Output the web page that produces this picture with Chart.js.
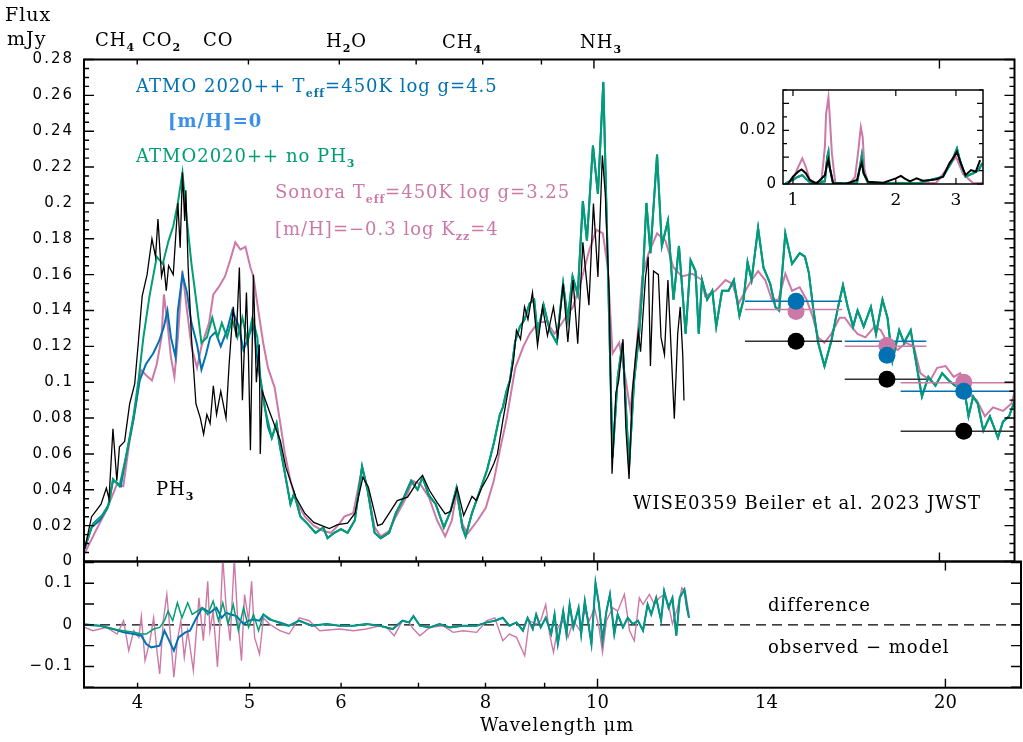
<!DOCTYPE html>
<html>
<head>
<title>WISE0359 spectrum vs models</title>
<script src="https://cdn.jsdelivr.net/npm/chart.js"></script>
<style>
  body { margin: 0; background: #fff; }
  #wrap { position: relative; width: 1023px; height: 742px; background: #fff; }
  #wrap canvas { position: absolute; left: 0; top: 0; }
</style>
</head>
<body>
<div id="wrap">
  <canvas id="mainChart" width="1023" height="742"></canvas>
  <canvas id="diffChart" width="1023" height="742"></canvas>
  <canvas id="insetChart" width="1023" height="742"></canvas>
</div>
<script>
// ---- observed JWST spectrum (mJy) ----
const wlObs = [3.60,3.65,3.68,3.72,3.76,3.78,3.81,3.84,3.86,3.90,3.94,3.98,4.01,4.04,4.08,4.12,4.15,4.17,4.20,4.22,4.24,4.26,4.30,4.34,4.36,4.38,4.40,4.41,4.43,4.46,4.50,4.54,4.57,4.60,4.63,4.66,4.69,4.73,4.78,4.81,4.85,4.88,4.91,4.94,4.98,5.00,5.02,5.05,5.08,5.11,5.12,5.14,5.22,5.33,5.39,5.50,5.60,5.70,5.88,5.98,6.10,6.19,6.29,6.36,6.48,6.54,6.74,6.88,6.97,7.00,7.09,7.19,7.30,7.42,7.50,7.60,7.70,7.83,7.90,7.99,8.08,8.18,8.24,8.33,8.45,8.51,8.56,8.63,8.70,8.76,8.84,8.93,9.02,9.11,9.22,9.30,9.40,9.49,9.59,9.68,9.78,9.90,9.99,10.08,10.17,10.23,10.31,10.37,10.45,10.51,10.60,10.66,10.73,10.80,10.87,10.93,10.98,11.09,11.15,11.20,11.27,11.38,11.44,11.52,11.60,11.65,11.75,11.83,11.89,11.95,11.98];
const fluxObs = [.007,.025,.028,.032,.041,.035,.074,.045,.064,.067,.088,.099,.123,.148,.160,.180,.170,.191,.159,.165,.151,.165,.160,.200,.175,.217,.190,.207,.165,.125,.088,.080,.071,.082,.077,.098,.082,.095,.080,.110,.142,.125,.164,.090,.150,.115,.062,.160,.100,.121,.060,.095,.083,.0675,.0525,.0357,.0268,.0218,.0184,.0206,.0214,.0268,.047,.0415,.020,.021,.034,.0359,.0415,.044,.048,.0396,.033,.0266,.028,.041,.0257,.0363,.034,.0415,.047,.0545,.060,.0787,.101,.112,.129,.124,.142,.135,.150,.1205,.142,.126,.142,.125,.155,.1224,.157,.1215,.178,.143,.1996,.1587,.2265,.205,.149,.049,.094,.101,.124,.075,.046,.094,.114,.128,.117,.1587,.170,.109,.162,.160,.125,.1154,.157,.131,.0796,.127,.142,.1154,.0898];

// ---- ATMO 2020++ Teff=450K log g=4.5 [m/H]=0 ----
const wlAtmo = [3.60,3.65,3.71,3.77,3.81,3.84,3.87,3.91,3.97,4.02,4.07,4.13,4.18,4.22,4.25,4.28,4.32,4.34,4.38,4.42,4.46,4.51,4.55,4.59,4.63,4.68,4.73,4.79,4.84,4.90,4.95,5.00,5.05,5.10,5.15,5.20,5.24,5.29,5.32,5.38,5.44,5.48,5.55,5.63,5.72,5.81,5.86,5.94,6.02,6.10,6.19,6.28,6.35,6.44,6.52,6.63,6.72,6.81,6.93,7.02,7.09,7.18,7.28,7.40,7.50,7.59,7.68,7.73,7.83,7.96,8.07,8.18,8.28,8.33,8.39,8.45,8.54,8.62,8.70,8.79,8.87,8.93,9.04,9.15,9.28,9.40,9.49,9.58,9.68,9.78,9.86,9.98,10.08,10.19,10.28,10.38,10.49,10.59,10.73,10.84,10.95,11.02,11.11,11.20,11.35,11.46,11.60,11.73,11.86,12.02,12.14,12.26,12.34,12.42,12.55,12.68,12.78,12.93,13.10,13.24,13.39,13.50,13.61,13.72,13.90,14.05,14.24,14.39,14.50,14.68,14.88,15.11,15.27,15.39,15.52,15.68,15.88,16.10,16.32,16.48,16.64,16.82,16.97,17.18,17.43,17.61,17.84,18.02,18.20,18.45,18.63,18.88,19.12,19.31,19.56,19.84,20.11,20.38,20.65,21.00,21.20,21.40,21.60,21.84,22.13,22.49,22.72,23.00,23.27];
const fluxAtmo = [.007,.019,.023,.030,.045,.044,.042,.058,.079,.101,.110,.116,.123,.131,.140,.125,.114,.140,.160,.150,.133,.121,.107,.115,.125,.128,.120,.129,.140,.132,.118,.125,.133,.108,.092,.075,.069,.077,.066,.049,.032,.038,.025,.021,.016,.019,.013,.016,.018,.016,.023,.053,.040,.016,.013,.016,.027,.034,.045,.040,.047,.037,.032,.019,.028,.041,.019,.014,.027,.040,.051,.066,.082,.086,.095,.101,.123,.131,.135,.144,.146,.127,.143,.129,.122,.155,.135,.159,.149,.201,.179,.232,.205,.2675,.168,.058,.103,.122,.053,.101,.127,.153,.200,.172,.227,.176,.190,.146,.176,.127,.168,.162,.127,.157,.146,.151,.131,.151,.151,.157,.137,.146,.167,.157,.186,.164,.155,.142,.140,.183,.166,.172,.170,.161,.142,.122,.109,.123,.142,.154,.142,.131,.140,.131,.142,.127,.146,.136,.112,.129,.122,.129,.108,.092,.103,.098,.105,.101,.098,.098,.081,.092,.088,.073,.081,.069,.078,.081,.090];

// ---- ATMO 2020++ without PH3 (differs from ATMO below 5.2 um) ----
const wlNoPH3Short = [3.60,3.66,3.73,3.78,3.81,3.86,3.91,3.97,4.01,4.05,4.10,4.16,4.21,4.26,4.30,4.34,4.38,4.42,4.46,4.51,4.55,4.60,4.65,4.70,4.74,4.79,4.84,4.89,4.94,4.99,5.04,5.09,5.12,5.17];
const fluxNoPH3Short = [.008,.021,.026,.032,.046,.042,.058,.081,.101,.125,.148,.170,.166,.179,.187,.200,.217,.190,.166,.142,.122,.125,.136,.125,.133,.125,.135,.125,.136,.122,.136,.125,.103,.085];

// ---- Sonora Teff=450K log g=3.25 [m/H]=-0.3 log Kzz=4 ----
const wlSonora = [3.60,3.68,3.76,3.84,3.89,3.94,3.99,4.03,4.07,4.12,4.16,4.20,4.22,4.25,4.28,4.31,4.34,4.38,4.42,4.46,4.51,4.55,4.62,4.66,4.71,4.77,4.82,4.87,4.92,4.97,5.02,5.05,5.10,5.15,5.20,5.27,5.33,5.38,5.44,5.50,5.60,5.70,5.81,5.90,6.00,6.06,6.17,6.28,6.35,6.44,6.52,6.63,6.72,6.84,6.95,7.06,7.18,7.30,7.42,7.52,7.59,7.68,7.76,7.92,8.05,8.18,8.28,8.39,8.54,8.68,8.79,8.93,9.09,9.24,9.40,9.59,9.75,9.91,10.05,10.18,10.28,10.38,10.52,10.66,10.76,10.87,11.02,11.16,11.35,11.54,11.73,11.93,12.18,12.42,12.50,12.76,13.02,13.20,13.37,13.55,13.72,13.90,14.10,14.29,14.48,14.68,14.88,15.11,15.32,15.52,15.68,15.88,16.10,16.37,16.54,16.76,16.97,17.24,17.56,17.78,18.02,18.39,18.70,19.00,19.25,19.63,19.91,20.25,20.58,20.85,21.13,21.55,21.91,22.27,22.72,23.10,23.27];
const fluxSonora = [.0045,.017,.0285,.043,.042,.0675,.088,.107,.104,.101,.110,.125,.149,.133,.114,.103,.125,.162,.140,.120,.108,.120,.133,.149,.153,.159,.168,.178,.174,.1755,.164,.159,.140,.122,.108,.097,.077,.060,.045,.034,.025,.020,.017,.016,.021,.025,.027,.052,.040,.019,.014,.017,.025,.034,.045,.043,.036,.023,.014,.023,.038,.021,.0155,.023,.030,.045,.062,.079,.108,.120,.127,.133,.134,.127,.134,.142,.157,.174,.185,.183,.164,.116,.122,.101,.084,.112,.159,.172,.183,.179,.164,.159,.1605,.157,.148,.151,.157,.155,.144,.151,.157,.162,.157,.146,.146,.1605,.151,.153,.146,.136,.125,.122,.127,.136,.136,.131,.127,.125,.131,.129,.122,.118,.122,.120,.105,.101,.108,.109,.103,.105,.094,.090,.081,.086,.084,.088,.095];

// ---- MIRI photometry: observed and synthetic, with filter widths ----
const wlPhot = [15, 18, 21];
const fluxPhotObs = [0.1229, 0.1016, 0.0727];
const fluxPhotAtmo = [0.1451, 0.1150, 0.0949];
const fluxPhotSonora = [0.1395, 0.1205, 0.1000];
const bandLo = [13.54, 16.54, 18.50];
const bandHi = [16.45, 19.48, 24.0];
const barAtmo = [0.1451, 0.1228, 0.0949];
const barSonora = [0.1405, 0.1200, 0.0997];

// ---- difference panel: observed - model ----
const wlDiffAtmo = [3.60,3.71,3.81,3.89,3.97,4.03,4.07,4.11,4.18,4.22,4.26,4.30,4.34,4.40,4.44,4.49,4.55,4.62,4.68,4.73,4.77,4.82,4.87,4.94,4.99,5.04,5.10,5.14,5.20,5.31,5.41,5.52,5.66,5.83,5.98,6.15,6.31,6.48,6.65,6.78,6.87,6.93,7.02,7.16,7.30,7.45,7.65,7.86,8.02,8.15,8.28,8.39,8.51,8.62,8.70,8.79,8.85,8.93,9.02,9.12,9.18,9.24,9.34,9.40,9.46,9.53,9.63,9.68,9.75,9.81,9.88,9.96,10.03,10.10,10.18,10.25,10.34,10.41,10.52,10.62,10.73,10.84,10.95,11.05,11.13,11.24,11.35,11.42,11.52,11.61,11.70,11.78,11.89,11.95,12.00];
const diffAtmo = [0,-.002,-.010,-.018,-.022,-.026,-.046,-.054,-.050,-.014,-.038,-.062,-.030,-.018,-.014,.013,.041,.029,.041,.017,.029,.025,.021,.002,.010,.013,.010,.025,.013,.006,-.002,.010,-.002,.002,-.002,-.002,.002,-.002,-.010,.010,.006,.021,-.002,-.006,.002,-.006,-.002,-.002,.006,.010,.017,-.002,.006,-.014,.017,-.010,.025,-.006,.017,-.022,.025,-.046,.033,-.022,.049,-.006,.041,-.022,.057,.010,-.046,.101,.049,-.038,.033,.073,-.022,.025,-.006,.017,.002,.010,-.014,.049,.025,.065,.010,.081,.041,.065,-.026,.065,.085,.041,.017];
const wlDiffNoPH3Short = [3.60,3.71,3.81,3.89,3.97,4.03,4.07,4.13,4.18,4.22,4.25,4.29,4.33,4.37,4.42,4.46,4.55,4.60,4.65,4.70,4.74,4.79,4.84,4.89,4.94,4.99,5.04,5.09,5.14,5.24,5.38];
const diffNoPH3Short = [.002,-.002,-.010,-.014,-.018,-.022,-.022,-.010,-.006,.010,.033,.010,.053,.017,.053,.025,.041,.025,.057,.010,.053,.002,.049,-.014,.041,-.006,.025,-.014,.025,.010,-.002];
const wlDiffSonora = [3.60,3.66,3.76,3.84,3.89,3.93,3.97,4.01,4.03,4.06,4.10,4.13,4.16,4.18,4.21,4.24,4.26,4.30,4.33,4.36,4.39,4.42,4.47,4.52,4.56,4.60,4.62,4.65,4.69,4.71,4.74,4.77,4.81,4.85,4.88,4.92,4.95,4.99,5.02,5.05,5.10,5.14,5.20,5.31,5.41,5.52,5.63,5.75,5.98,6.15,6.31,6.48,6.57,6.67,6.78,6.87,6.93,7.02,7.16,7.35,7.50,7.65,7.86,8.02,8.15,8.28,8.39,8.51,8.65,8.73,8.85,8.93,9.02,9.09,9.16,9.24,9.34,9.43,9.53,9.66,9.75,9.84,9.94,10.03,10.10,10.18,10.31,10.41,10.55,10.66,10.76,10.87,10.95,11.09,11.20,11.31,11.42,11.52,11.61,11.73,11.83,11.91,12.00];
const diffSonora = [-.006,-.014,-.006,-.022,.010,-.062,-.014,-.030,.021,-.086,-.038,.017,-.070,-.118,.010,.073,.010,-.126,-.038,.010,-.078,-.014,-.110,.065,-.038,.105,-.014,.033,-.101,-.014,.160,.049,-.038,.160,.025,-.086,.073,.010,.105,-.030,-.070,.017,.002,-.014,-.022,.017,.010,-.014,-.010,-.014,-.010,-.002,-.006,-.026,.010,.006,-.010,-.026,-.006,-.002,-.018,-.014,-.018,.010,.017,-.038,-.022,-.030,-.074,.010,.002,.010,.049,-.022,-.066,-.006,.010,-.030,.010,-.014,.033,.010,.041,-.006,-.066,.010,.041,.033,.073,-.014,-.038,.065,.049,.073,.049,.065,.073,.049,.002,.041,.089,.081,.025];

// ---- inset: near-infrared part of the spectrum ----
const wlInsetObs = [0.97,1.00,1.036,1.06,1.09,1.12,1.17,1.24,1.26,1.27,1.28,1.31,1.43,1.54,1.57,1.59,1.61,1.66,1.84,2.00,2.07,2.12,2.20,2.30,2.40,2.53,2.63,2.75,2.87,2.96,3.02,3.10,3.20,3.32,3.43,3.53];
const fluxInsetObs = [.0003,.0027,.0046,.0054,.0040,.0015,.0001,.0033,.0077,.0091,.0064,.0003,.0001,.0015,.0058,.0079,.0040,.0008,.0005,.0021,.0030,.0021,.0010,.0021,.0012,.0015,.0018,.0027,.0077,.0101,.0120,.0077,.0033,.0052,.0046,.0089];
const wlInsetAtmo = [0.95,1.00,1.036,1.065,1.09,1.13,1.24,1.26,1.27,1.28,1.31,1.54,1.57,1.59,1.61,1.66,2.00,2.35,2.75,2.90,3.02,3.08,3.20,3.37,3.50,3.58];
const fluxInsetAtmo = [.0002,.0015,.0027,.0033,.0020,.0002,.0010,.0101,.0120,.0064,.0003,.0003,.0064,.0107,.0040,.0002,.0003,.0005,.0027,.0077,.0132,.0089,.0027,.0040,.0052,.0077];
const wlInsetSonora = [0.95,1.00,1.036,1.065,1.09,1.12,1.17,1.21,1.24,1.25,1.27,1.28,1.30,1.33,1.47,1.52,1.55,1.58,1.60,1.62,1.66,1.80,2.00,2.35,2.63,2.85,3.00,3.15,3.37,3.60];
const fluxInsetSonora = [0,.0015,.0064,.0095,.0064,.0015,.0003,.0005,.0138,.0260,.0323,.0260,.0114,.0005,.0003,.0027,.0114,.0212,.0175,.0052,.0003,.0002,.0005,.0003,.0005,.0064,.0101,.0037,.0003,.0005];

// ---- axis ticks ----
const wlTicks = [4, 5, 6, 7, 8, 9, 10, 20];
const wlTickLabels = [4, 5, 6, 8, 10, 14, 20];
const fluxTickLabels = [0, 0.02, 0.04, 0.06, 0.08, 0.1, 0.12, 0.14, 0.16, 0.18, 0.2, 0.22, 0.24, 0.26, 0.28];
const diffTickLabels = [-0.1, 0, 0.1];
const insetWlTicks = [1, 2, 3];
const insetFluxLabels = [0, 0.02];

const BLUE = '#0072B2', GREEN = '#009E73', PINK = '#CC79A7', LIGHTBLUE = '#3a8fe6';
const SERIF = '"DejaVu Serif", serif';
const SANS = '"DejaVu Sans", sans-serif';

const pts = (xs, ys) => xs.map((x, i) => ({ x, y: ys[i] }));
const bars = (lo, hi, ys) => {
  const out = [];
  ys.forEach((y, i) => { out.push({ x: lo[i], y }, { x: hi[i], y }, { x: hi[i], y: null }); });
  return out;
};

// green = no-PH3 short part, then same as ATMO
const cut = 5.2;
const wlNoPH3 = wlNoPH3Short.concat(wlAtmo.filter(w => w > cut));
const fluxNoPH3 = fluxNoPH3Short.concat(fluxAtmo.filter((f, i) => wlAtmo[i] > cut));
const wlDiffNoPH3 = wlDiffNoPH3Short.concat(wlDiffAtmo.filter(w => w > 5.4));
const diffNoPH3 = diffNoPH3Short.concat(diffAtmo.filter((d, i) => wlDiffAtmo[i] > 5.4));

function richText(ctx, str, x, y, size, color, bold) {
  const parts = str.split(/(_\{[^}]*\})/);
  ctx.fillStyle = color;
  ctx.textAlign = 'left';
  ctx.textBaseline = 'alphabetic';
  ctx.letterSpacing = '1px';
  let cx = x;
  parts.forEach(p => {
    if (!p) return;
    if (p.startsWith('_{')) {
      const t = p.slice(2, -1);
      ctx.font = 'bold ' + Math.round(size * 0.62) + 'px ' + SERIF;
      ctx.fillText(t, cx, y + size * 0.28);
      cx += ctx.measureText(t).width;
    } else {
      ctx.font = (bold ? 'bold ' : '') + size + 'px ' + SERIF;
      ctx.fillText(p, cx, y);
      cx += ctx.measureText(p).width;
    }
  });
}

// frame, inward ticks and tick labels for one panel
function frameAxes(cfg) {
  return {
    id: 'frameAxes',
    beforeDatasetsDraw(chart) {
      if (!cfg.fill) return;
      const a = chart.chartArea;
      chart.ctx.save();
      chart.ctx.fillStyle = '#fff';
      chart.ctx.fillRect(a.left, a.top, a.right - a.left, a.bottom - a.top);
      chart.ctx.restore();
    },
    afterDatasetsDraw(chart) {
      const { ctx, chartArea: a } = chart;
      const sx = chart.scales.x, sy = chart.scales.y;
      ctx.save();
      ctx.strokeStyle = '#000';
      ctx.lineWidth = cfg.tickWidth;
      ctx.beginPath();
      cfg.xTicks.forEach(t => {
        const px = sx.getPixelForValue(t.v);
        ctx.moveTo(px, a.bottom); ctx.lineTo(px, a.bottom - t.len);
        ctx.moveTo(px, a.top); ctx.lineTo(px, a.top + t.len);
      });
      cfg.yTicks.forEach(t => {
        const py = sy.getPixelForValue(t.v);
        ctx.moveTo(a.left, py); ctx.lineTo(a.left + t.len, py);
        ctx.moveTo(a.right, py); ctx.lineTo(a.right - t.len, py);
      });
      ctx.stroke();
      ctx.lineWidth = cfg.frameWidth;
      ctx.strokeRect(a.left, a.top, a.right - a.left, a.bottom - a.top);
      ctx.fillStyle = '#000';
      ctx.font = cfg.yFont;
      ctx.letterSpacing = cfg.yLetter;
      ctx.textAlign = 'right';
      ctx.textBaseline = 'middle';
      cfg.yLabels.forEach(v => ctx.fillText(cfg.yFmt(v), a.left - cfg.yGap, sy.getPixelForValue(v)));
      ctx.font = cfg.xFont;
      ctx.letterSpacing = '0px';
      ctx.textAlign = 'center';
      ctx.textBaseline = 'alphabetic';
      cfg.xLabels.forEach(v => ctx.fillText(String(v), sx.getPixelForValue(v), a.bottom + cfg.xGap));
      ctx.restore();
    }
  };
}

function yTickSet(min, max, step, majorEvery, majorLen, minorLen) {
  const out = [];
  const n = Math.round((max - min) / step);
  for (let i = 0; i <= n; i++) {
    const v = min + i * step;
    const major = Math.abs(v / majorEvery - Math.round(v / majorEvery)) < 1e-6;
    out.push({ v, len: major ? majorLen : minorLen });
  }
  return out;
}

const wlTickSet = wlTicks.map(v => ({ v, len: (v === 10 || v === 20) ? 9 : 5 }));

const notes = {
  id: 'notes',
  afterDraw(chart) {
    const ctx = chart.ctx;
    ctx.save();
    richText(ctx, 'Flux', 5, 21, 19, '#000');
    richText(ctx, 'mJy', 7, 45, 19, '#000');
    richText(ctx, 'CH_{4}', 95, 46, 18, '#000');
    richText(ctx, 'CO_{2}', 142, 46, 18, '#000');
    richText(ctx, 'CO', 203, 46, 18, '#000');
    richText(ctx, 'H_{2}O', 326, 47, 18, '#000');
    richText(ctx, 'CH_{4}', 442, 48, 18, '#000');
    richText(ctx, 'NH_{3}', 580, 48, 18, '#000');
    richText(ctx, 'ATMO 2020++ T_{eff}=450K log g=4.5', 136, 92, 18, BLUE);
    richText(ctx, '[m/H]=0', 168, 127, 18, LIGHTBLUE, true);
    richText(ctx, 'ATMO2020++ no PH_{3}', 136, 162, 18, GREEN);
    richText(ctx, 'Sonora T_{eff}=450K log g=3.25', 275, 198, 18, PINK);
    richText(ctx, '[m/H]=\u22120.3 log K_{zz}=4', 275, 235, 18, PINK);
    richText(ctx, 'PH_{3}', 156, 495, 18, '#000');
    richText(ctx, 'WISE0359 Beiler et al. 2023 JWST', 633, 509, 18, '#000');
    richText(ctx, 'difference', 768, 611, 18, '#000');
    richText(ctx, 'observed \u2212 model', 768, 653, 18, '#000');
    richText(ctx, 'Wavelength \u03bcm', 480, 731, 18, '#000');
    ctx.restore();
  }
};

const lineDs = (label, data, color, width, order) => ({
  label, data, borderColor: color, backgroundColor: color, borderWidth: width,
  pointRadius: 0, pointHoverRadius: 0, tension: 0, fill: false, order, spanGaps: false
});
const dotDs = (label, data, color, order) => ({
  label, data, showLine: false, pointRadius: 8.5, pointHoverRadius: 8.5,
  pointBackgroundColor: color, pointBorderColor: color, pointBorderWidth: 0, order
});

const baseOpts = (padding, xMin, xMax, yMin, yMax) => ({
  responsive: false,
  animation: false,
  devicePixelRatio: 1,
  events: [],
  layout: { padding },
  scales: {
    x: { type: 'logarithmic', min: xMin, max: xMax, display: false },
    y: { type: 'linear', min: yMin, max: yMax, display: false }
  },
  plugins: { legend: { display: false }, tooltip: { enabled: false } }
});

// main spectrum panel
new Chart(document.getElementById('mainChart'), {
  type: 'line',
  data: {
    datasets: [
      lineDs('Sonora', pts(wlSonora, fluxSonora), PINK, 2, 20),
      lineDs('ATMO 2020++', pts(wlAtmo, fluxAtmo), BLUE, 2, 19),
      lineDs('ATMO 2020++ no PH3', pts(wlNoPH3, fluxNoPH3), GREEN, 2, 18),
      lineDs('Observed', pts(wlObs, fluxObs), '#000', 1.3, 17),
      lineDs('Sonora band', bars(bandLo, bandHi, barSonora), PINK, 1.5, 16),
      lineDs('ATMO band', bars(bandLo, bandHi, barAtmo), BLUE, 1.5, 15),
      lineDs('Observed band', bars(bandLo, bandHi, fluxPhotObs), '#333', 1.5, 15),
      dotDs('Sonora phot', pts(wlPhot, fluxPhotSonora), PINK, 12),
      dotDs('ATMO phot', pts(wlPhot, fluxPhotAtmo), BLUE, 11),
      dotDs('Observed phot', pts(wlPhot, fluxPhotObs), '#000', 11)
    ]
  },
  options: baseOpts({ left: 84, top: 59.5, right: 2, bottom: 742 - 561.5 }, 3.595, 23.25, 0, 0.28),
  plugins: [frameAxes({
    xTicks: wlTickSet,
    yTicks: yTickSet(0, 0.28, 0.005, 0.02, 10, 5),
    yLabels: fluxTickLabels, yFmt: v => String(v), yFont: '15px ' + SANS, yLetter: '2px', yGap: 10,
    xLabels: [], xFont: '18px ' + SERIF, xGap: 0,
    tickWidth: 1.4, frameWidth: 2
  }), notes]
});

// difference panel
new Chart(document.getElementById('diffChart'), {
  type: 'line',
  data: {
    datasets: [
      lineDs('zero', [{ x: 3.595, y: 0 }, { x: 23.25, y: 0 }], '#000', 1.4, 20),
      lineDs('Sonora diff', pts(wlDiffSonora, diffSonora), PINK, 1.4, 19),
      lineDs('ATMO diff', pts(wlDiffAtmo, diffAtmo), BLUE, 2, 18),
      lineDs('no PH3 diff', pts(wlDiffNoPH3, diffNoPH3), GREEN, 1.5, 17)
    ]
  },
  options: baseOpts({ left: 84, top: 561.5, right: 2, bottom: 742 - 687.7 }, 3.595, 23.25, -0.151, 0.1523),
  plugins: [{
    id: 'dashZero',
    beforeDatasetsDraw(chart) { chart.getDatasetMeta(0).dataset.options.borderDash = [10, 6]; }
  }, frameAxes({
    xTicks: wlTickSet,
    yTicks: yTickSet(-0.15, 0.15, 0.05, 0.05, 10, 10),
    yLabels: diffTickLabels, yFmt: v => (v < 0 ? '\u2212' + String(-v) : String(v)), yFont: '15px ' + SANS, yLetter: '2px', yGap: 10,
    xLabels: wlTickLabels, xFont: '18px ' + SERIF, xGap: 20,
    tickWidth: 1.4, frameWidth: 2
  })]
});

// inset panel
new Chart(document.getElementById('insetChart'), {
  type: 'line',
  data: {
    datasets: [
      lineDs('Sonora NIR', pts(wlInsetSonora, fluxInsetSonora), PINK, 2, 20),
      lineDs('ATMO NIR', pts(wlInsetAtmo, fluxInsetAtmo), BLUE, 2, 19),
      lineDs('no PH3 NIR', pts(wlInsetAtmo, fluxInsetAtmo), GREEN, 2, 18),
      lineDs('Observed NIR', pts(wlInsetObs, fluxInsetObs), '#000', 2, 17)
    ]
  },
  options: baseOpts({ left: 783, top: 90, right: 1023 - 983, bottom: 742 - 184 }, 0.935, 3.6, 0, 0.035),
  plugins: [frameAxes({
    fill: true,
    xTicks: insetWlTicks.map(v => ({ v, len: 6 })),
    yTicks: yTickSet(0, 0.035, 0.005, 0.01, 6, 4),
    yLabels: insetFluxLabels, yFmt: v => String(v), yFont: '15px ' + SANS, yLetter: '1px', yGap: 6,
    xLabels: insetWlTicks, xFont: '17px ' + SERIF, xGap: 21,
    tickWidth: 1.2, frameWidth: 1.5
  })]
});
</script>
</body>
</html>
